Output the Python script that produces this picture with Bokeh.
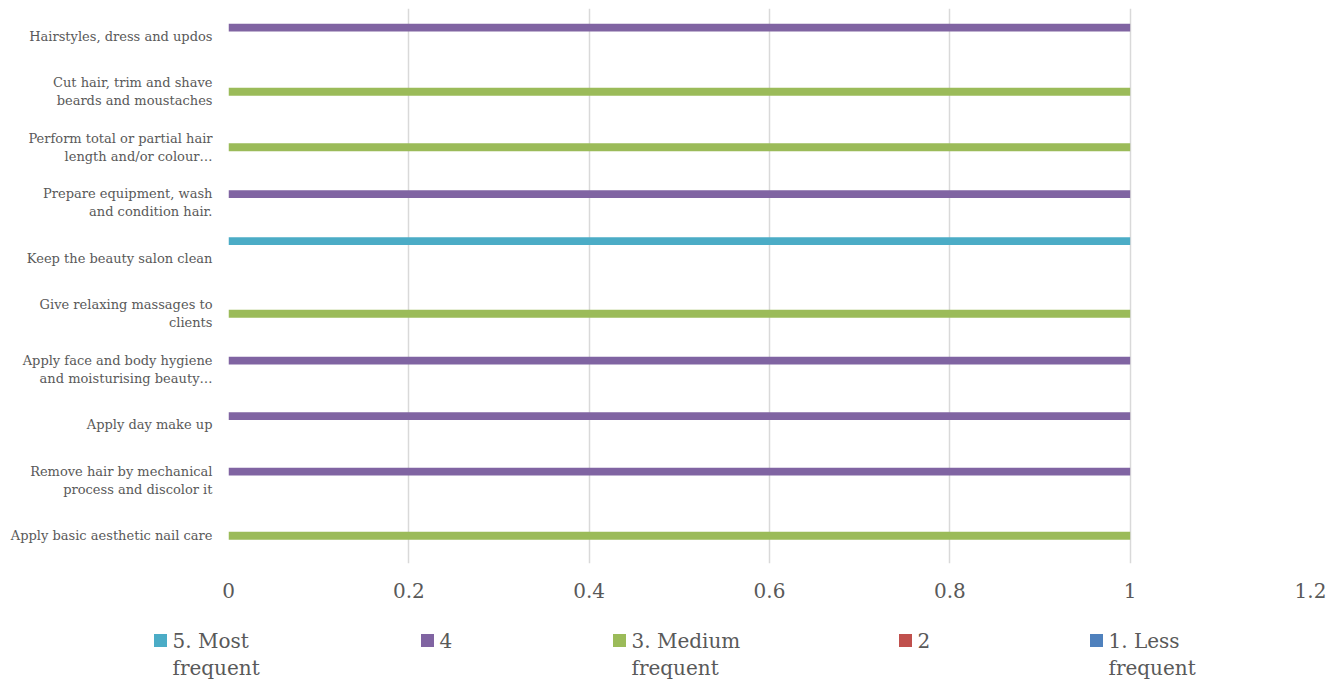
from bokeh.plotting import figure
from bokeh.models import FactorRange, Range1d, FixedTicker, ColumnDataSource
from bokeh.transform import dodge
from bokeh.core.properties import value
from bokeh.embed import file_html
from bokeh.resources import INLINE

# ---------------- data ----------------
categories = [
    "Apply basic aesthetic nail care",
    "Remove hair by mechanical\nprocess and discolor it",
    "Apply day make up",
    "Apply face and body hygiene\nand moisturising beauty…",
    "Give relaxing massages to\nclients",
    "Keep the beauty salon clean",
    "Prepare equipment, wash\nand condition hair.",
    "Perform total or partial hair\nlength and/or colour…",
    "Cut hair, trim and shave\nbeards and moustaches",
    "Hairstyles, dress and updos",
]
series_names = ["5. Most\nfrequent", "4", "3. Medium\nfrequent", "2", "1. Less\nfrequent"]
s5_most = [0, 0, 0, 0, 0, 1, 0, 0, 0, 0]
s4 = [0, 1, 1, 1, 0, 0, 1, 0, 0, 1]
s3_medium = [1, 0, 0, 0, 1, 0, 0, 1, 1, 0]
s2 = [0, 0, 0, 0, 0, 0, 0, 0, 0, 0]
s1_less = [0, 0, 0, 0, 0, 0, 0, 0, 0, 0]
x_ticks = [0, 0.2, 0.4, 0.6, 0.8, 1.0, 1.2]
x_tick_labels = ["0", "0.2", "0.4", "0.6", "0.8", "1", "1.2"]

# ---------------- style ----------------
colors = ["#4BACC6", "#8064A2", "#9BBB59", "#C0504D", "#4F81BD"]
offsets = [0.31, 0.155, 0.0, -0.155, -0.31]
FONT = "DejaVu Serif"
TXT = "#595959"

W = 1340
BL, BR = 228, W - 1310

p = figure(width=W, height=620, y_range=FactorRange(factors=categories),
           x_range=Range1d(0, 1.2), output_backend="svg", toolbar_location=None,
           min_border_left=BL, min_border_right=BR, min_border_top=8, min_border_bottom=57)
p.outline_line_color = None
p.background_fill_color = "white"
p.border_fill_color = "white"

all_series = [s5_most, s4, s3_medium, s2, s1_less]
for vals, col, off in zip(all_series, colors, offsets):
    src = ColumnDataSource(dict(cat=categories, v=vals))
    p.hbar(y=dodge("cat", off, range=p.y_range), right="v", left=0, height=0.14,
           source=src, fill_color=col, line_color=None)

p.xaxis.ticker = FixedTicker(ticks=x_ticks)
p.xaxis.major_label_overrides = {t: l for t, l in zip(x_ticks, x_tick_labels)}
p.xaxis.axis_line_color = None
p.xaxis.major_tick_line_color = None
p.xaxis.major_tick_out = 0
p.xaxis.minor_tick_line_color = None
p.xaxis.major_label_text_font = FONT
p.xaxis.major_label_text_font_size = "20px"
p.xaxis.major_label_text_color = TXT
p.xaxis.major_label_standoff = 19

p.yaxis.axis_line_color = None
p.yaxis.major_tick_line_color = None
p.yaxis.major_tick_out = 0
p.yaxis.major_label_text_font = FONT
p.yaxis.major_label_text_font_size = "13px"
p.yaxis.major_label_text_color = TXT
p.yaxis.major_label_standoff = 16

p.xgrid.grid_line_color = "#d9d9d9"
p.xgrid.grid_line_width = 1.5
p.ygrid.grid_line_color = None

# ---------------- legend (separate root strip, page-pixel coordinates) ----------------
LH = 62
lg = figure(width=W, height=LH, x_range=Range1d(0, W), y_range=Range1d(620 + LH, 620),
            output_backend="svg", toolbar_location=None,
            min_border_left=0, min_border_right=0, min_border_top=0, min_border_bottom=0)
lg.axis.visible = False
lg.grid.grid_line_color = None
lg.outline_line_color = None
lg.border_fill_color = "white"
lg.background_fill_color = "white"

leg_x = [160, 427, 619, 905, 1096]
sq_src = ColumnDataSource(dict(x=leg_x, y=[640] * 5, c=colors))
lg.rect(x="x", y="y", width=13, height=13, fill_color="c", line_color=None, source=sq_src)
first_lines = [n.split("\n")[0] for n in series_names]
second_lines = [n.split("\n")[1] if "\n" in n else "" for n in series_names]
tx = [x + 12 for x in leg_x]
lg.text(x=tx, y=[640] * 5, text=first_lines, text_font=value(FONT), text_font_size="20px",
        text_color=TXT, text_baseline="middle")
lg.text(x=tx, y=[667] * 5, text=second_lines, text_font=value(FONT), text_font_size="20px",
        text_color=TXT, text_baseline="middle")

open("out.html", "w").write(file_html([p, lg], INLINE))
